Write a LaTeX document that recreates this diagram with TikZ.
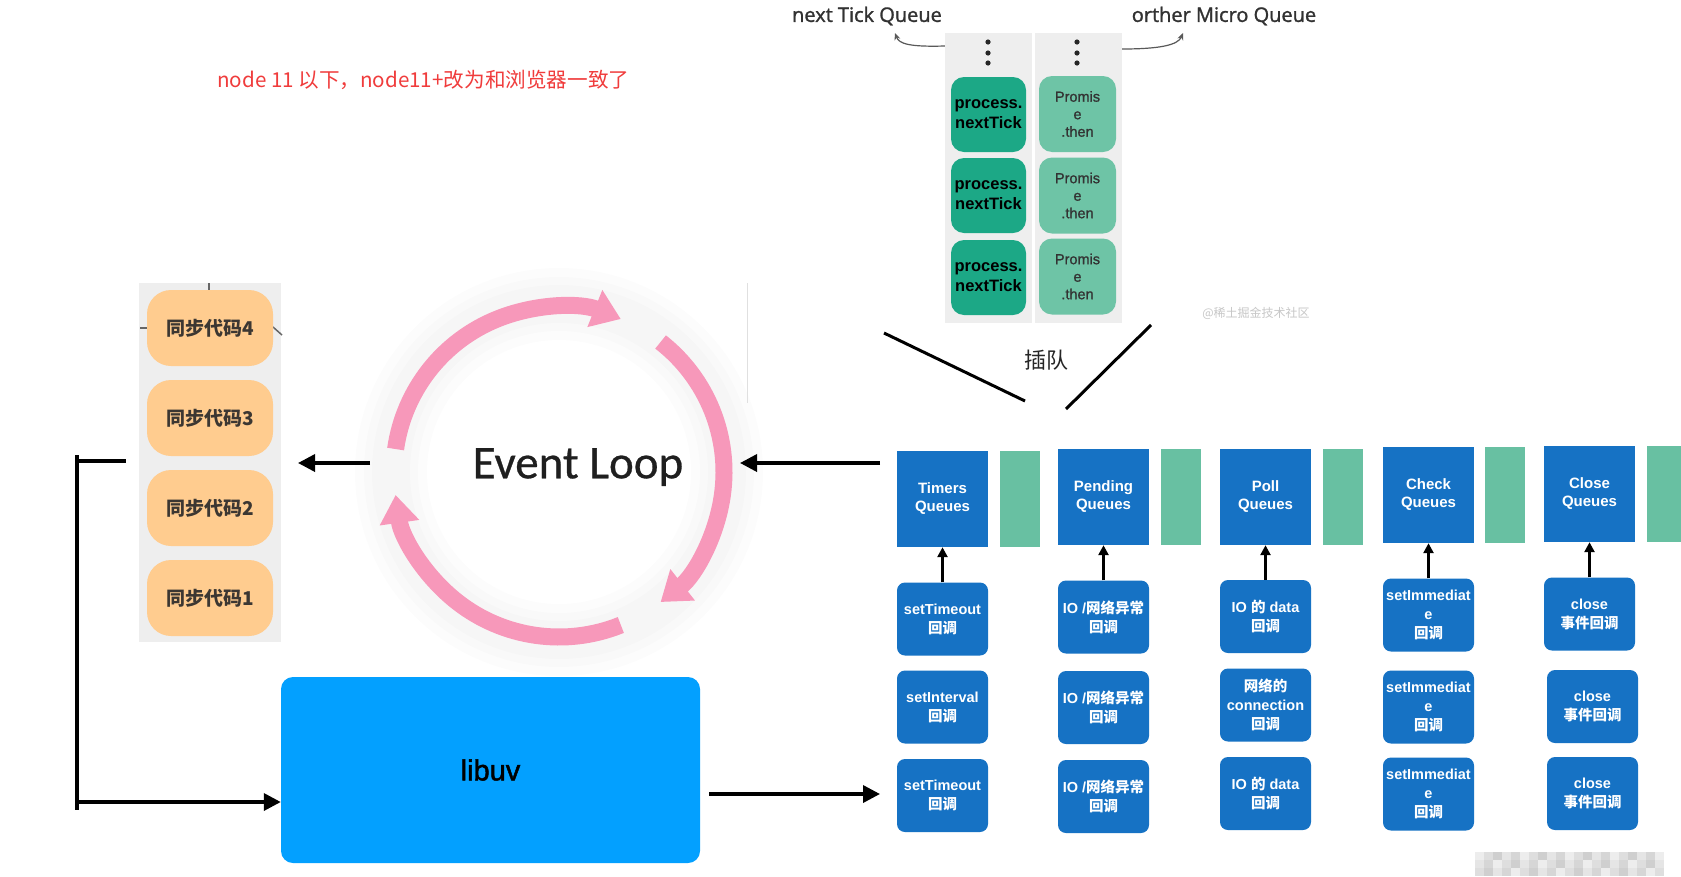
\documentclass[tikz,border=0pt]{standalone}
\usepackage{fontspec}
\setmainfont{Liberation Sans}
\newfontfamily\cjkf{Noto Sans CJK SC}
\newfontfamily\latf{Liberation Sans}
\newfontfamily\latmid[FakeBold=1.2]{Liberation Sans}
\newfontfamily\latheavy[FakeBold=1.6]{Liberation Sans}
\newfontfamily\calf[FakeBold=0.6]{Carlito}
\newfontfamily\opsf[FakeBold=1.4]{Open Sans}
\usetikzlibrary{arrows.meta}

\definecolor{qblue}{RGB}{22,114,196}
\definecolor{qgreen}{RGB}{104,192,162}
\definecolor{ntgreen}{RGB}{28,168,134}
\definecolor{prgreen}{RGB}{110,196,166}
\definecolor{syncorange}{RGB}{255,204,143}
\definecolor{synctext}{RGB}{60,55,50}
\definecolor{panelgray}{RGB}{238,238,238}
\definecolor{ringpink}{RGB}{247,152,186}
\definecolor{libblue}{RGB}{3,160,255}
\definecolor{notered}{RGB}{240,60,60}
\definecolor{labelgray}{RGB}{50,50,50}

\newcommand{\zh}[1]{{\cjkf #1}}
\newcommand{\fsz}[2]{\fontsize{#1}{#2}\selectfont}

\begin{document}
\begin{tikzpicture}[x=1pt,y=-1pt,
  queuebox/.style={fill=qblue, minimum width=91pt, minimum height=96pt, inner sep=0pt,
    text=white, align=center, font=\latf\bfseries\fsz{15}{18}},
  gapbar/.style={fill=qgreen, minimum width=40pt, minimum height=96pt, inner sep=0pt},
  cbbox/.style={fill=qblue, rounded corners=8pt, minimum width=91pt, minimum height=73pt,
    inner sep=0pt, text=white, align=center, font=\latf\bfseries\fsz{14.5}{19}},
  syncbox/.style={fill=syncorange, rounded corners=24pt, minimum width=126pt, minimum height=76pt,
    inner sep=0pt, text=synctext, font=\cjkf\bfseries\fsz{19}{22}},
  tickbox/.style={fill=ntgreen, rounded corners=13pt, minimum width=75pt, minimum height=75pt,
    inner sep=0pt, text=black, align=center, font=\latf\bfseries\fsz{16.5}{20}},
  promisebox/.style={fill=prgreen, rounded corners=13pt, minimum width=77pt, minimum height=76pt,
    inner sep=0pt, text=black!80, align=center, font=\latmid\fsz{14.5}{17.5}},
  panelbg/.style={fill=panelgray, inner sep=0pt},
  bigarrow/.style={line width=3.5pt, -{Triangle[length=17pt,width=17pt]}},
  plainline/.style={line width=3.5pt},
  uparrow/.style={line width=2.5pt, -{Triangle[length=10pt,width=10pt]}},
  cutline/.style={line width=3pt},
  curlarrow/.style={draw=black!65, line width=1.2pt, -{Stealth[length=7pt,width=6pt]}},
  ringarc/.style={draw=ringpink, line width=17pt, -{Triangle[length=28pt,width=38pt]}},
  tick/.style={draw=black!60, line width=1.5pt},
]
% canvas
\fill[white] (0,0) rectangle (1681,876);
\useasboundingbox (0,0) rectangle (1681,876);

% note at the top left
\node[text=notered, font=\cjkf\fsz{20.6}{24}, anchor=west, inner sep=0pt] (note) at (217,80)
  {node 11 以下，node11+改为和浏览器一致了};

% ---------- micro task queues ----------
\node[panelbg, minimum width=87pt, minimum height=290pt] (tickpanel) at (988.5,178) {};
\node[panelbg, minimum width=87pt, minimum height=290pt] (promisepanel) at (1078.5,178) {};
\foreach \yy in {42,53,63} {
  \fill[black!85] (988,\yy) circle[radius=2.6];
  \fill[black!85] (1077,\yy) circle[radius=2.6];
}
\node[tickbox] (t1) at (988.5,114.5) {process.\\nextTick};
\node[tickbox] (t2) at (988.5,195.5) {process.\\nextTick};
\node[tickbox] (t3) at (988.5,277.5) {process.\\nextTick};
\node[promisebox] (p1) at (1077.5,114) {Promis\\e\\.then};
\node[promisebox] (p2) at (1077.5,195.5) {Promis\\e\\.then};
\node[promisebox] (p3) at (1077.5,276.5) {Promis\\e\\.then};

\node[font=\opsf\fsz{20}{24}, text=labelgray, inner sep=0pt] (ticklabel) at (867,16) {next Tick Queue};
\node[font=\opsf\fsz{20}{24}, text=labelgray, inner sep=0pt] (otherlabel) at (1224,16) {orther Micro Queue};
\coordinate (tickhook) at (895,33);
\coordinate (otherhook) at (1183,33);
\draw[curlarrow] (tickpanel.west |- 0,46) .. controls (910,47) and (899,44) .. (tickhook);
\draw[curlarrow] (promisepanel.east |- 0,49) .. controls (1160,49) and (1178,45) .. (otherhook);

\node[font=\cjkf\fsz{12}{14}, text=black!22, inner sep=0pt] (wm) at (1256,313) {@稀土掘金技术社区};

% cut-in lines
\coordinate (cutA1) at (884,333); \coordinate (cutA2) at (1025,401);
\coordinate (cutB1) at (1151,325); \coordinate (cutB2) at (1066,409);
\draw[cutline] (cutA1) -- (cutA2);
\draw[cutline] (cutB1) -- (cutB2);
\node[font=\cjkf\fsz{22}{26}, text=black!85, inner sep=0pt] (cutin) at (1046,360) {插队};

% ---------- synchronous code stack ----------
\node[panelbg, minimum width=142pt, minimum height=359pt] (syncpanel) at (210,462.5) {};
\draw[tick] (209,283) -- (209,292);
\draw[tick] (140,328) -- (147,328);
\draw[tick] (273,327) -- (282,335);
\node[syncbox] (s4) at (210,328) {同步代码4};
\node[syncbox] (s3) at (210,418) {同步代码3};
\node[syncbox] (s2) at (210,508) {同步代码2};
\node[syncbox] (s1) at (210,598) {同步代码1};

% ---------- event loop ring ----------
\begin{scope}[shift={(559,472)}, y=1pt]
  \foreach \w in {72,54,38}
    \draw[black, opacity=0.012, line width=\w pt] (0,0) circle[radius=168];
  \draw[ringarc] (172:165) arc[start angle=172, end angle=68, radius=165];
  \draw[ringarc] (52:165) arc[start angle=52, end angle=-52, radius=165];
  \draw[ringarc] (-68:165) arc[start angle=-68, end angle=-172, radius=165];
\end{scope}
\node[font=\calf\fsz{47}{52}, text=black!88, inner sep=0pt] (evloop) at (578,467) {Event Loop};
\draw[black!12, line width=1pt] (747,283) -- (747,403);

% ---------- libuv ----------
\node[fill=libblue, rounded corners=12pt, minimum width=419pt, minimum height=186pt, inner sep=0pt,
  font=\latheavy\fsz{29}{34}, text=black] (libuv) at (490.5,770) {libuv};

% ---------- macro task queues ----------
\node[queuebox] (q1) at (942.5,499) {Timers\\Queues};
\node[queuebox] (q2) at (1103.5,497) {Pending\\Queues};
\node[queuebox] (q3) at (1265.5,497) {Poll\\Queues};
\node[queuebox] (q4) at (1428.5,495) {Check\\Queues};
\node[queuebox] (q5) at (1589.5,494) {Close\\Queues};
\node[gapbar] (g1) at (1020,499) {};
\node[gapbar] (g2) at (1181,497) {};
\node[gapbar] (g3) at (1343,497) {};
\node[gapbar] (g4) at (1505,495) {};
\node[gapbar] (g5) at (1667,494) {};

\node[cbbox] (c11) at (942.5,619)   {setTimeout\\\zh{回调}};
\node[cbbox] (c12) at (942.5,707)   {setInterval\\\zh{回调}};
\node[cbbox] (c13) at (942.5,795.5) {setTimeout\\\zh{回调}};
\node[cbbox] (c21) at (1103.5,617)   {IO /\zh{网络异常}\\\zh{回调}};
\node[cbbox] (c22) at (1103.5,707.5) {IO /\zh{网络异常}\\\zh{回调}};
\node[cbbox] (c23) at (1103.5,796.5) {IO /\zh{网络异常}\\\zh{回调}};
\node[cbbox] (c31) at (1265.5,616.5) {IO \zh{的} data\\\zh{回调}};
\node[cbbox] (c32) at (1265.5,705)   {\zh{网络的}\\connection\\\zh{回调}};
\node[cbbox] (c33) at (1265.5,793.5) {IO \zh{的} data\\\zh{回调}};
\node[cbbox] (c41) at (1428.5,615) {setImmediat\\e\\\zh{回调}};
\node[cbbox] (c42) at (1428.5,707) {setImmediat\\e\\\zh{回调}};
\node[cbbox] (c43) at (1428.5,794) {setImmediat\\e\\\zh{回调}};
\node[cbbox] (c51) at (1589.5,614)   {close\\\zh{事件回调}};
\node[cbbox] (c52) at (1592.5,706.5) {close\\\zh{事件回调}};
\node[cbbox] (c53) at (1592.5,793.5) {close\\\zh{事件回调}};

\foreach \k in {1,...,5}
  \draw[uparrow] (c\k1.north) -- (q\k.south);

% ---------- flow arrows ----------
\coordinate (inR) at (880,463);  \coordinate (ringR) at (740,463);
\coordinate (ringL) at (370,463); \coordinate (syncR) at (298,463);
\draw[bigarrow] (inR) -- (ringR);
\draw[bigarrow] (ringL) -- (syncR);

\coordinate (outL) at (709,794); \coordinate (outR) at (880,794);
\draw[bigarrow] (outL) -- (outR);

\coordinate (brTop) at (77,455); \coordinate (brBot) at (77,810);
\coordinate (brArm) at (126,461); \coordinate (brLow) at (77,802);
\draw[plainline] (brTop) -- (brBot);
\draw[plainline] (brTop |- brArm) -- (brArm);
\draw[bigarrow] (brLow) -- (brLow -| libuv.west);

% ---------- pixelated corner ----------
\foreach \i in {0,...,20}
  \foreach \j in {0,1,2} {
    \pgfmathtruncatemacro\g{7+3*mod(\i*7+\j*11,5)}
    \fill[black!\g] (1475+\i*9, 852+\j*8) rectangle ++(9,8);
  }
\end{tikzpicture}
\end{document}
